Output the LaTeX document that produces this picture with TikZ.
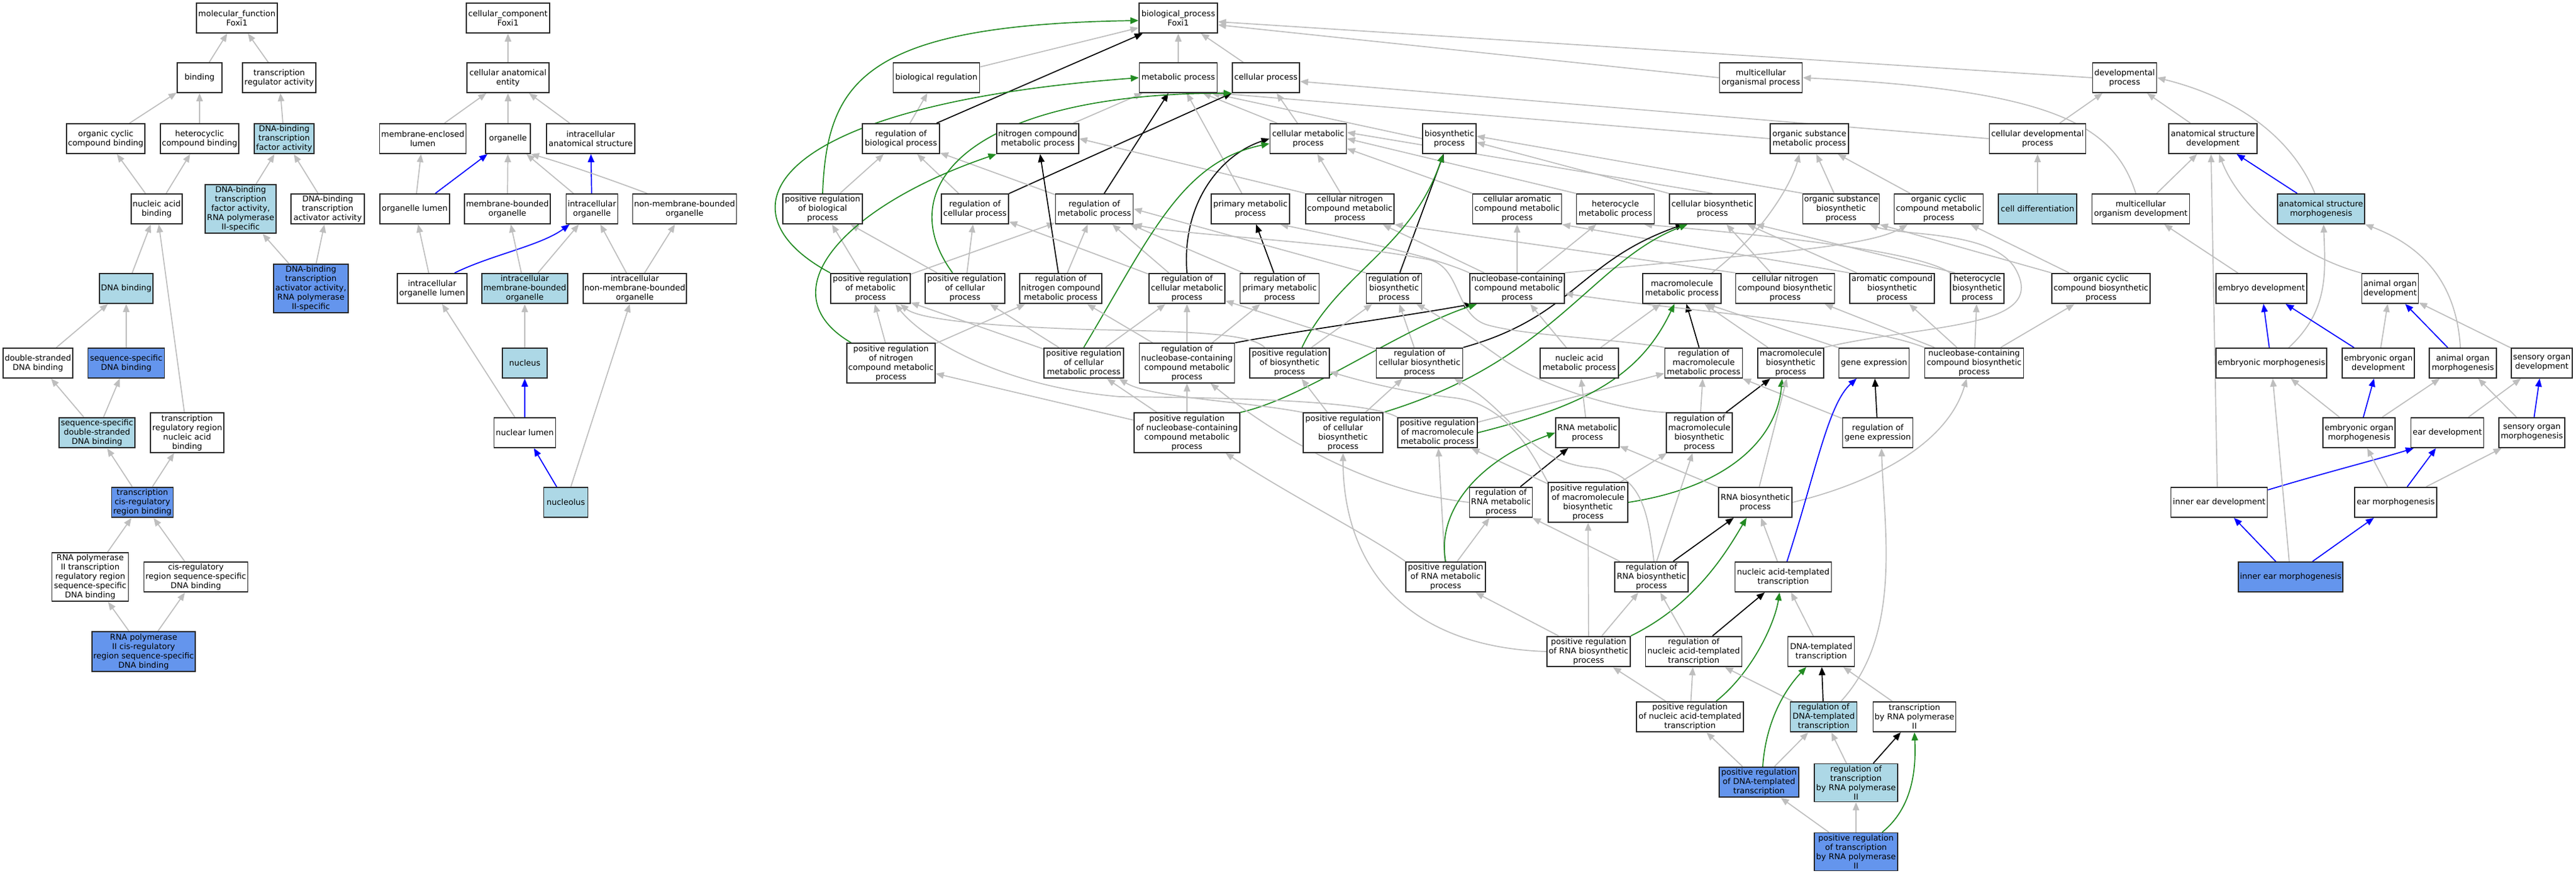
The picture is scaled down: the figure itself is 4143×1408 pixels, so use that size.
\documentclass[tikz,border=0pt]{standalone}
\usepackage{fontspec}
\setmainfont{DejaVu Sans}
\usetikzlibrary{arrows.meta}
\definecolor{egray}{RGB}{190,190,190}
\definecolor{egreen}{RGB}{34,139,34}
\definecolor{eblue}{RGB}{0,0,255}
\definecolor{lbc}{RGB}{173,216,230}
\definecolor{cbc}{RGB}{100,149,237}
\definecolor{bordc}{RGB}{40,40,40}
\pgfdeclarelayer{bg}
\pgfsetlayers{bg,main}
\newcommand\gofont{\fontsize{6.5}{7.5}\selectfont}
\tikzset{
  gon/.style={draw=bordc, line width=0.9pt, fill=white, align=center, inner xsep=1pt, inner ysep=1.5pt, minimum height=24pt, font=\gofont},
  lblue/.style={fill=lbc},
  cblue/.style={fill=cbc},
  wd/.style={minimum width=#1*0.5pt},
  etip/.style={-{Triangle[length=6.5pt,width=5.2pt]}},
  eisa/.style={draw=egray, line width=0.85pt, etip},
  epart/.style={draw=eblue, line width=0.85pt, etip},
  ereg/.style={draw=black, line width=0.85pt, etip},
  epos/.style={draw=egreen, line width=0.85pt, etip},
}
\begin{document}
\begin{tikzpicture}[x=0.5pt,y=-0.5pt]
\useasboundingbox (0,0) rectangle (4143,1408);
% ===== molecular function =====
\node[gon,wd=130] (mf) at (381,29) {molecular\_function\\Foxi1};
\node[gon,wd=72] (binding) at (321,125) {binding};
\node[gon,wd=118] (tra) at (449,125) {transcription\\regulator activity};
\node[gon,wd=126] (occb) at (170,223) {organic cyclic\\compound binding};
\node[gon,wd=126] (hcb) at (321,223) {heterocyclic\\compound binding};
\node[gon,lblue,wd=96] (dtfa) at (457,223) {DNA-binding\\transcription\\factor activity};
\node[gon,wd=82] (nab) at (252,336) {nucleic acid\\binding};
\node[gon,lblue,wd=114] (dtfa2) at (387,336) {DNA-binding\\transcription\\factor activity,\\RNA polymerase\\II-specific};
\node[gon,wd=118] (dtaa) at (527,336) {DNA-binding\\transcription\\activator activity};
\node[gon,cblue,wd=120] (dtaa2) at (500,464) {DNA-binding\\transcription\\activator activity,\\RNA polymerase\\II-specific};
\node[gon,lblue,wd=85] (dnab) at (203,464) {DNA binding};
\node[gon,wd=112] (dsdb) at (61,584) {double-stranded\\DNA binding};
\node[gon,cblue,wd=123] (ssdb) at (203,584) {sequence-specific\\DNA binding};
\node[gon,lblue,wd=122] (ssds) at (156,696) {sequence-specific\\double-stranded\\DNA binding};
\node[gon,wd=118] (trrn) at (301,696) {transcription\\regulatory region\\nucleic acid\\binding};
\node[gon,cblue,wd=99] (tcrb) at (229,808) {transcription\\cis-regulatory\\region binding};
\node[gon,wd=123] (rp2tr) at (145,928) {RNA polymerase\\II transcription\\regulatory region\\sequence-specific\\DNA binding};
\node[gon,wd=167] (crss) at (315,928) {cis-regulatory\\region sequence-specific\\DNA binding};
\node[gon,cblue,wd=166] (rp2cr) at (231,1048) {RNA polymerase\\II cis-regulatory\\region sequence-specific\\DNA binding};
% ===== cellular component =====
\node[gon,wd=134] (cc) at (817,29) {cellular\_component\\Foxi1};
\node[gon,wd=132] (cae) at (817,125) {cellular anatomical\\entity};
\node[gon,wd=139] (mel) at (680,223) {membrane-enclosed\\lumen};
\node[gon,wd=72] (org) at (817,223) {organelle};
\node[gon,wd=142] (ias) at (950,223) {intracellular\\anatomical structure};
\node[gon,wd=112] (ol) at (667,336) {organelle lumen};
\node[gon,wd=138] (mbo) at (816,336) {membrane-bounded\\organelle};
\node[gon,wd=83] (io) at (952,336) {intracellular\\organelle};
\node[gon,wd=167] (nmbo) at (1101,336) {non-membrane-bounded\\organelle};
\node[gon,wd=112] (iol) at (695,464) {intracellular\\organelle lumen};
\node[gon,lblue,wd=138] (imbo) at (844,464) {intracellular\\membrane-bounded\\organelle};
\node[gon,wd=166] (inmbo) at (1021,464) {intracellular\\non-membrane-bounded\\organelle};
\node[gon,lblue,wd=72] (nucleus) at (844,584) {nucleus};
\node[gon,wd=99] (nl) at (844,696) {nuclear lumen};
\node[gon,lblue,wd=71] (nucleolus) at (910,808) {nucleolus};
% ===== biological process =====
\node[gon,wd=126] (bp) at (1895,29) {biological\_process\\Foxi1};
\node[gon,wd=139] (breg) at (1506,125) {biological regulation};
\node[gon,wd=125] (mp) at (1895,125) {metabolic process};
\node[gon,wd=108] (cp) at (2036,125) {cellular process};
\node[gon,wd=133] (mop) at (2832,125) {multicellular\\organismal process};
\node[gon,wd=103] (dp) at (3417,125) {developmental\\process};
\node[gon,wd=124] (rbp) at (1449,223) {regulation of\\biological process};
\node[gon,wd=130] (ncmp) at (1669,223) {nitrogen compound\\metabolic process};
\node[gon,wd=123] (cmp) at (2104,223) {cellular metabolic\\process};
\node[gon,wd=86] (bsp) at (2331,223) {biosynthetic\\process};
\node[gon,wd=126] (osmp) at (2910,223) {organic substance\\metabolic process};
\node[gon,wd=155] (cdp) at (3277,223) {cellular developmental\\process};
\node[gon,wd=142] (asd) at (3559,223) {anatomical structure\\development};
\node[gon,wd=128] (prbp) at (1323,336) {positive regulation\\of biological\\process};
\node[gon,wd=108] (rcp) at (1568,336) {regulation of\\cellular process};
\node[gon,wd=125] (rmp) at (1760,336) {regulation of\\metabolic process};
\node[gon,wd=126] (pmp) at (2011,336) {primary metabolic\\process};
\node[gon,wd=142] (cncmp) at (2171,336) {cellular nitrogen\\compound metabolic\\process};
\node[gon,wd=143] (cacmp) at (2440,336) {cellular aromatic\\compound metabolic\\process};
\node[gon,wd=125] (hmp) at (2598,336) {heterocycle\\metabolic process};
\node[gon,wd=138] (cbp) at (2754,336) {cellular biosynthetic\\process};
\node[gon,wd=122] (osbp) at (2961,336) {organic substance\\biosynthetic\\process};
\node[gon,wd=143] (occmp) at (3118,336) {organic cyclic\\compound metabolic\\process};
\node[gon,lblue,wd=126] (cdiff) at (3277,336) {cell differentiation};
\node[gon,wd=157] (mod) at (3443,336) {multicellular\\organism development};
\node[gon,lblue,wd=140] (asm) at (3733,336) {anatomical structure\\morphogenesis};
\node[gon,wd=128] (prmp) at (1400,464) {positive regulation\\of metabolic\\process};
\node[gon,wd=128] (prcp) at (1552,464) {positive regulation\\of cellular\\process};
\node[gon,wd=131] (rncmp) at (1706,464) {regulation of\\nitrogen compound\\metabolic process};
\node[gon,wd=122] (rcmp) at (1909,464) {regulation of\\cellular metabolic\\process};
\node[gon,wd=127] (rpmp) at (2058,464) {regulation of\\primary metabolic\\process};
\node[gon,wd=89] (rbsp) at (2242,464) {regulation of\\biosynthetic\\process};
\node[gon,wd=152] (nccmp) at (2440,464) {nucleobase-containing\\compound metabolic\\process};
\node[gon,wd=126] (mmp) at (2705,464) {macromolecule\\metabolic process};
\node[gon,wd=159] (cncbp) at (2871,464) {cellular nitrogen\\compound biosynthetic\\process};
\node[gon,wd=136] (acbp) at (3043,464) {aromatic compound\\biosynthetic\\process};
\node[gon,wd=86] (hbp) at (3180,464) {heterocycle\\biosynthetic\\process};
\node[gon,wd=158] (occbp) at (3379,464) {organic cyclic\\compound biosynthetic\\process};
\node[gon,wd=146] (ed) at (3637,464) {embryo development};
\node[gon,wd=91] (aod) at (3844,464) {animal organ\\development};
\node[gon,wd=142] (prncmp) at (1433,584) {positive regulation\\of nitrogen\\compound metabolic\\process};
\node[gon,wd=128] (prcmp) at (1743,584) {positive regulation\\of cellular\\metabolic process};
\node[gon,wd=153] (rnccmp) at (1909,584) {regulation of\\nucleobase-containing\\compound metabolic\\process};
\node[gon,wd=128] (prbsp) at (2074,584) {positive regulation\\of biosynthetic\\process};
\node[gon,wd=139] (rcbp) at (2283,584) {regulation of\\cellular biosynthetic\\process};
\node[gon,wd=126] (namp) at (2540,584) {nucleic acid\\metabolic process};
\node[gon,wd=125] (rmmp) at (2740,584) {regulation of\\macromolecule\\metabolic process};
\node[gon,wd=106] (mbp) at (2880,584) {macromolecule\\biosynthetic\\process};
\node[gon,wd=113] (ge) at (3014,584) {gene expression};
\node[gon,wd=159] (nccbp) at (3175,584) {nucleobase-containing\\compound biosynthetic\\process};
\node[gon,wd=178] (em) at (3653,584) {embryonic morphogenesis};
\node[gon,wd=116] (eod) at (3825,584) {embryonic organ\\development};
\node[gon,wd=108] (aom) at (3961,584) {animal organ\\morphogenesis};
\node[gon,wd=98] (sod) at (4088,584) {sensory organ\\development};
\node[gon,wd=170] (prnccmp) at (1909,696) {positive regulation\\of nucleobase-containing\\compound metabolic\\process};
\node[gon,wd=128] (prcbp) at (2160,696) {positive regulation\\of cellular\\biosynthetic\\process};
\node[gon,wd=128] (prmmp) at (2312,696) {positive regulation\\of macromolecule\\metabolic process};
\node[gon,wd=102] (rnamp) at (2553,696) {RNA metabolic\\process};
\node[gon,wd=106] (rmbp) at (2733,696) {regulation of\\macromolecule\\biosynthetic\\process};
\node[gon,wd=113] (rge) at (3020,696) {regulation of\\gene expression};
\node[gon,wd=116] (eom) at (3794,696) {embryonic organ\\morphogenesis};
\node[gon,wd=117] (eardev) at (3936,696) {ear development};
\node[gon,wd=106] (som) at (4072,696) {sensory organ\\morphogenesis};
\node[gon,wd=101] (rrnamp) at (2414,808) {regulation of\\RNA metabolic\\process};
\node[gon,wd=128] (prmbp) at (2554,808) {positive regulation\\of macromolecule\\biosynthetic\\process};
\node[gon,wd=118] (rnabp) at (2823,808) {RNA biosynthetic\\process};
\node[gon,wd=155] (ied) at (3569,808) {inner ear development};
\node[gon,wd=132] (earm) at (3853,808) {ear morphogenesis};
\node[gon,wd=128] (prrnamp) at (2325,928) {positive regulation\\of RNA metabolic\\process};
\node[gon,wd=118] (rrnabp) at (2656,928) {regulation of\\RNA biosynthetic\\process};
\node[gon,wd=155] (natt) at (2868,928) {nucleic acid-templated\\transcription};
\node[gon,cblue,wd=168] (iem) at (3684,928) {inner ear morphogenesis};
\node[gon,wd=134] (prrnabp) at (2555,1048) {positive regulation\\of RNA biosynthetic\\process};
\node[gon,wd=155] (rnatt) at (2724,1048) {regulation of\\nucleic acid-templated\\transcription};
\node[gon,wd=107] (dtt) at (2929,1048) {DNA-templated\\transcription};
\node[gon,wd=172] (prnatt) at (2718,1153) {positive regulation\\of nucleic acid-templated\\transcription};
\node[gon,lblue,wd=107] (rdtt) at (2933,1153) {regulation of\\DNA-templated\\transcription};
\node[gon,wd=133] (trp2) at (3079,1153) {transcription\\by RNA polymerase\\II};
\node[gon,cblue,wd=128] (prdtt) at (2829,1258) {positive regulation\\of DNA-templated\\transcription};
\node[gon,lblue,wd=134] (rtrp2) at (2985,1259) {regulation of\\transcription\\by RNA polymerase\\II};
\node[gon,cblue,wd=134] (prtrp2) at (2985,1370) {positive regulation\\of transcription\\by RNA polymerase\\II};

\begin{pgfonlayer}{bg}
\fill[white] (0,0) rectangle (4143,1408);
% ----- MF edges -----
\draw[eisa] (binding) -- (mf);
\draw[eisa] (tra) -- (mf);
\draw[eisa] (occb) -- (binding);
\draw[eisa] (hcb) -- (binding);
\draw[eisa] (dtfa) -- (tra);
\draw[eisa] (nab) -- (occb);
\draw[eisa] (nab) -- (hcb);
\draw[eisa] (dtfa2) -- (dtfa);
\draw[eisa] (dtaa) -- (dtfa);
\draw[eisa] (dtaa2) -- (dtfa2);
\draw[eisa] (dtaa2) -- (dtaa);
\draw[eisa] (dnab) -- (nab);
\draw[eisa] (trrn) -- (nab);
\draw[eisa] (dsdb) -- (dnab);
\draw[eisa] (ssdb) -- (dnab);
\draw[eisa] (ssds) -- (dsdb);
\draw[eisa] (ssds) -- (ssdb);
\draw[eisa] (tcrb) -- (ssds);
\draw[eisa] (tcrb) -- (trrn);
\draw[eisa] (rp2tr) -- (tcrb);
\draw[eisa] (crss) -- (tcrb);
\draw[eisa] (rp2cr) -- (rp2tr);
\draw[eisa] (rp2cr) -- (crss);
% ----- CC edges -----
\draw[eisa] (cae) -- (cc);
\draw[eisa] (mel) -- (cae);
\draw[eisa] (org) -- (cae);
\draw[eisa] (ias) -- (cae);
\draw[eisa] (ol) -- (mel);
\draw[epart] (ol) -- (org);
\draw[eisa] (mbo) -- (org);
\draw[eisa] (io) -- (org);
\draw[epart] (io) -- (ias);
\draw[eisa] ([xshift=-30pt]nmbo.north) .. controls (985,290) and (905,262) .. (org.south east);
\draw[eisa] (iol) -- (ol);
\draw[epart] ([xshift=18pt]iol.north) .. controls (790,410) and (870,395) .. ([xshift=-18pt]io.south);
\draw[eisa] (imbo) -- (mbo);
\draw[eisa] (imbo) -- (io);
\draw[eisa] (inmbo) -- (io);
\draw[eisa] (inmbo) -- (nmbo);
\draw[eisa] (nucleus) -- (imbo);
\draw[eisa] (nl) -- (iol);
\draw[epart] (nl) -- (nucleus);
\draw[epart] (nucleolus) -- (nl);
\draw[eisa] (nucleolus) -- (inmbo);
% ----- BP edges -----
\draw[eisa] (breg) -- (bp);
\draw[eisa] (mp) -- (bp);
\draw[eisa] (cp) -- (bp);
\draw[eisa] (mop.west) -- ([yshift=-5.5pt]bp.east);
\draw[eisa] (dp.west) -- ([yshift=-3pt]bp.east);
\draw[eisa] (rbp) -- (breg);
\draw[ereg] (rbp) -- (bp);
\draw[eisa] (ncmp) -- (mp);
\draw[eisa] ([xshift=-25pt]cmp.north) -- ([xshift=-12pt]mp.south east);
\draw[eisa] (cmp) -- (cp);
\draw[eisa] (bsp.west) -- ([xshift=-5pt]mp.south east);
\draw[eisa] (osmp.west) -- (mp.south east);
\draw[eisa] (cdp.west) -- ([yshift=-3pt]cp.east);
\draw[eisa] (cdp) -- (dp);
\draw[eisa] (asd) -- (dp);
\draw[eisa] (prbp) -- (rbp);
\draw[epos] (prbp.north) .. controls (1330,130) and (1390,40) .. ([yshift=-2pt]bp.west);
\draw[eisa] (rcp) -- (rbp);
\draw[ereg] (rcp) -- (cp);
\draw[eisa] (rmp) -- (rbp);
\draw[ereg] (rmp) -- (mp);
\draw[eisa] (pmp) -- (mp);
\draw[eisa] (cncmp.north west) -- (ncmp.east);
\draw[eisa] (cncmp) -- (cmp);
\draw[eisa] (cacmp.north west) -- ([yshift=-8pt]cmp.east);
\draw[eisa] (hmp.north west) -- (cmp.east);
\draw[eisa] (cbp.north) -- ([yshift=5pt]cmp.east);
\draw[eisa] (cbp.north west) -- ([yshift=-3pt]bsp.east);
\draw[eisa] (osbp.north west) -- ([yshift=2pt]bsp.east);
\draw[eisa] (osbp) -- (osmp);
\draw[eisa] (occmp) -- (osmp);
\draw[eisa] (cdiff) -- (cdp);
\draw[eisa] ([xshift=-4pt]mod.north) .. controls (3400,200) and (3300,145) .. (mop.east);
\draw[eisa] (mod) -- (asd);
\draw[epart] (asm) -- (asd);
\draw[eisa] ([xshift=-5pt]asm.north) .. controls (3690,230) and (3610,160) .. (dp.east);
% rank 4
\draw[eisa] (prmp) -- (prbp);
\draw[eisa] (prmp) -- (rmp);
\draw[epos] (prmp.north west) .. controls (1150,340) and (1230,170) .. (mp.west);
\draw[eisa] (prcp) -- (prbp);
\draw[eisa] (prcp) -- (rcp);
\draw[epos] ([xshift=-10pt]prcp.north) .. controls (1430,300) and (1560,150) .. (cp.south west);
\draw[eisa] (rncmp) -- (rmp);
\draw[ereg] (rncmp) -- (ncmp);
\draw[eisa] (rcmp) -- (rmp);
\draw[eisa] (rcmp) -- (rcp);
\draw[ereg] (rcmp.north) .. controls (1900,330) and (1960,250) .. (cmp.west);
\draw[eisa] (rpmp) -- (rmp);
\draw[ereg] (rpmp) -- (pmp);
\draw[eisa] (rbsp.north west) -- (rmp.east);
\draw[ereg] (rbsp) -- (bsp);
\draw[eisa] (nccmp) -- (cacmp);
\draw[eisa] (nccmp) -- (hmp);
\draw[eisa] (nccmp) -- (cncmp);
\draw[eisa] (nccmp.north east) .. controls (2800,410) and (3000,400) .. ([xshift=-25pt]occmp.south);
\draw[eisa] (nccmp.north west) .. controls (2300,410) and (2150,380) .. ([xshift=24pt]pmp.south);
\draw[eisa] ([xshift=24pt]mmp.north) .. controls (2830,380) and (2880,300) .. ([xshift=-8pt]osmp.south);
\draw[eisa] (cncbp) -- (cbp);
\draw[eisa] (cncbp.north west) -- (cncmp.south east);
\draw[eisa] (acbp.north west) -- (cacmp.south east);
\draw[eisa] (acbp) -- (cbp);
\draw[eisa] (hbp.north west) .. controls (3080,400) and (2800,375) .. ([xshift=23pt]hmp.south);
\draw[eisa] ([xshift=4pt]hbp.north west) -- (cbp.south east);
\draw[eisa] (occbp) -- (occmp);
\draw[eisa] (occbp.north west) -- (osbp.south east);
\draw[eisa] (ed) -- (mod);
\draw[eisa] (aod.north west) .. controls (3690,410) and (3600,330) .. ([xshift=5pt]asd.south);
% rank 5
\draw[eisa] (prncmp) -- (prmp);
\draw[eisa] (prncmp) -- (rncmp);
\draw[epos] ([xshift=-32pt]prncmp.north) .. controls (1230,470) and (1360,330) .. (ncmp.south west);
\draw[eisa] (prcmp) -- (prmp);
\draw[eisa] (prcmp) -- (prcp);
\draw[eisa] (prcmp) -- (rcmp);
\draw[epos] (prcmp.north) .. controls (1850,380) and (1900,260) .. ([yshift=-4pt]cmp.west);
\draw[eisa] (rnccmp) -- (rcmp);
\draw[eisa] (rnccmp) -- (rncmp);
\draw[eisa] (rnccmp) -- (rpmp);
\draw[ereg] (rnccmp.north east) .. controls (2100,530) and (2250,510) .. ([xshift=2pt]nccmp.south west);
\draw[eisa] ([xshift=-20pt]prbsp.north) .. controls (2010,535) and (1900,533) .. (1750,530) .. controls (1600,525) and (1480,515) .. ([xshift=24pt]prmp.south);
\draw[eisa] (prbsp) -- (rbsp);
\draw[epos] ([xshift=10pt]prbsp.north) .. controls (2150,440) and (2270,400) .. ([xshift=-5pt]bsp.south);
\draw[eisa] (rcbp) -- (rbsp);
\draw[eisa] (rcbp) -- (rcmp);
\draw[ereg] (rcbp.north east) .. controls (2530,510) and (2540,420) .. ([xshift=-23pt]cbp.south);
\draw[eisa] (namp) -- (nccmp);
\draw[eisa] (namp) -- (mmp);
\draw[eisa] (rmmp.north west) .. controls (2600,545) and (2450,540) .. (2390,522) .. controls (2340,505) and (2350,432) .. (2300,418) .. controls (2150,388) and (1900,378) .. (rmp.south east);
\draw[ereg] (rmmp) -- (mmp);
\draw[eisa] (mbp) -- (mmp);
\draw[eisa] (mbp.north east) .. controls (3100,520) and (3300,530) .. (3240,430) .. controls (3200,370) and (3060,380) .. ([xshift=23pt]osbp.south);
\draw[eisa] (ge.north west) -- ([xshift=20pt]mmp.south);
\draw[eisa] (nccbp.north west) .. controls (3000,520) and (2700,500) .. ([yshift=-4pt]nccmp.east);
\draw[eisa] (nccbp) -- (cncbp);
\draw[eisa] (nccbp) -- (acbp);
\draw[eisa] (nccbp) -- (hbp);
\draw[eisa] (nccbp) -- (occbp);
\draw[epart] (em) -- (ed);
\draw[eisa] ([xshift=14pt]em.north) .. controls (3745,500) and (3740,440) .. ([xshift=2pt]asm.south);
\draw[epart] (eod) -- (ed);
\draw[eisa] (eod) -- (aod);
\draw[epart] (aom) -- (aod);
\draw[eisa] ([xshift=-2pt]aom.north) .. controls (3950,440) and (3880,390) .. (asm.south east);
\draw[eisa] (sod) -- (aod);
% rank 6
\draw[eisa] (prnccmp) -- (prcmp);
\draw[eisa] (prnccmp) -- (rnccmp);
\draw[eisa] (prnccmp) -- (prncmp);
\draw[epos] (prnccmp.north east) .. controls (2100,640) and (2250,530) .. ([xshift=6pt]nccmp.south west);
\draw[eisa] (prcbp) -- (prbsp);
\draw[eisa] (prcbp) -- (rcbp);
\draw[eisa] (prcbp.north west) .. controls (2000,645) and (1850,640) .. ([xshift=-4pt]prcmp.south east);
\draw[epos] (prcbp.north east) .. controls (2500,580) and (2560,420) .. ([xshift=-20pt]cbp.south);
\draw[eisa] (prmmp.north west) .. controls (2200,645) and (2000,640) .. (1800,638) .. controls (1600,620) and (1480,540) .. ([xshift=20pt]prmp.south);
\draw[eisa] (prmmp) -- (rmmp);
\draw[epos] (prmmp.east) .. controls (2560,650) and (2640,600) .. ([xshift=-6pt]mmp.south);
\draw[eisa] (rnamp) -- (namp);
\draw[eisa] (rmbp) -- (rmmp);
\draw[eisa] (rmbp.north west) .. controls (2600,660) and (2480,620) .. (2420,580) .. controls (2350,530) and (2300,500) .. ([xshift=18pt]rbsp.south);
\draw[ereg] (rmbp) -- (mbp);
\draw[eisa] (rge) -- (rmmp);
\draw[ereg] (rge) -- (ge);
\draw[eisa] (eom) -- (em);
\draw[epart] (eom) -- (eod);
\draw[eisa] (eom) -- (aom);
\draw[eisa] (eardev) -- (sod);
\draw[eisa] (som) -- (aom);
\draw[epart] (som) -- (sod);
% rank 7
\draw[eisa] (rrnamp.west) .. controls (2200,790) and (2050,700) .. ([xshift=19pt]rnccmp.south);
\draw[ereg] (rrnamp) -- (rnamp);
\draw[eisa] (prmbp) -- (rmbp);
\draw[eisa] (prmbp) -- (prmmp);
\draw[eisa] (prmbp.north west) .. controls (2460,720) and (2420,650) .. (2340,640) .. controls (2250,630) and (2180,610) .. ([yshift=-7pt]prbsp.east);
\draw[epos] (prmbp.east) .. controls (2800,780) and (2860,690) .. ([xshift=-7pt]mbp.south);
\draw[eisa] (rnabp) -- (rnamp);
\draw[eisa] (rnabp) -- (mbp);
\draw[eisa] (rnabp.east) .. controls (3000,780) and (3130,720) .. ([xshift=-6pt]nccbp.south);
\draw[eisa] ([xshift=-1.5pt]ied.north) -- ([xshift=-1.5pt]asd.south);
\draw[epart] ([yshift=10pt]ied.east) .. controls (3740,760) and (3820,740) .. ([xshift=-27pt]eardev.south);
\draw[eisa] (earm) -- (eom);
\draw[epart] (earm) -- (eardev);
\draw[eisa] (earm) -- (som);
% rank 8
\draw[eisa] (prrnamp) -- (rrnamp);
\draw[eisa] (prrnamp) -- (prmmp);
\draw[eisa] (prrnamp.north west) .. controls (2200,860) and (2080,800) .. ([xshift=31pt]prnccmp.south);
\draw[epos] (prrnamp.north) .. controls (2310,820) and (2380,740) .. (rnamp.west);
\draw[eisa] (rrnabp) -- (rrnamp);
\draw[eisa] (rrnabp) -- (rmbp);
\draw[eisa] ([xshift=2pt]rrnabp.north) .. controls (2650,820) and (2640,760) .. (2560,752) .. controls (2460,745) and (2430,660) .. ([xshift=28pt]rcbp.south);
\draw[ereg] (rrnabp) -- (rnabp);
\draw[eisa] (natt) -- (rnabp);
\draw[epart] ([xshift=3pt]natt.north) .. controls (2920,760) and (2940,650) .. ([xshift=-14pt]ge.south);
\draw[epart] (iem) -- (ied);
\draw[epart] (iem) -- (earm);
\draw[eisa] (iem) -- (em);
% rank 9
\draw[eisa] (prrnabp) -- (prrnamp);
\draw[eisa] (prrnabp) -- (rrnabp);
\draw[eisa] (prrnabp) -- (prmbp);
\draw[eisa] (prrnabp.west) .. controls (2250,1040) and (2160,900) .. (prcbp.south);
\draw[epos] (prrnabp.north east) .. controls (2720,975) and (2770,900) .. ([xshift=-7pt]rnabp.south);
\draw[eisa] (rnatt) -- (rrnabp);
\draw[ereg] (rnatt) -- (natt);
\draw[eisa] (dtt) -- (natt);
% rank 10
\draw[eisa] (prnatt) -- (prrnabp);
\draw[eisa] (prnatt) -- (rnatt);
\draw[epos] ([xshift=21pt]prnatt.north) .. controls (2820,1080) and (2855,1000) .. ([xshift=-3pt]natt.south);
\draw[eisa] (rdtt) -- (rnatt);
\draw[ereg] (rdtt) -- (dtt);
\draw[eisa] ([xshift=14pt]rdtt.north) .. controls (3060,1020) and (3030,850) .. ([xshift=3pt]rge.south);
\draw[eisa] (trp2) -- (dtt);
% rank 11
\draw[eisa] (prdtt) -- (prnatt);
\draw[eisa] (prdtt) -- (rdtt);
\draw[epos] ([xshift=3pt]prdtt.north) .. controls (2840,1160) and (2870,1110) .. ([xshift=-12pt]dtt.south);
\draw[eisa] (rtrp2) -- (rdtt);
\draw[ereg] (rtrp2) -- (trp2);
% rank 12
\draw[eisa] (prtrp2) -- (prdtt);
\draw[eisa] (prtrp2) -- (rtrp2);
\draw[epos] ([xshift=21pt]prtrp2.north) .. controls (3075,1300) and (3082,1240) .. (trp2.south);
\end{pgfonlayer}
\end{tikzpicture}
\end{document}
